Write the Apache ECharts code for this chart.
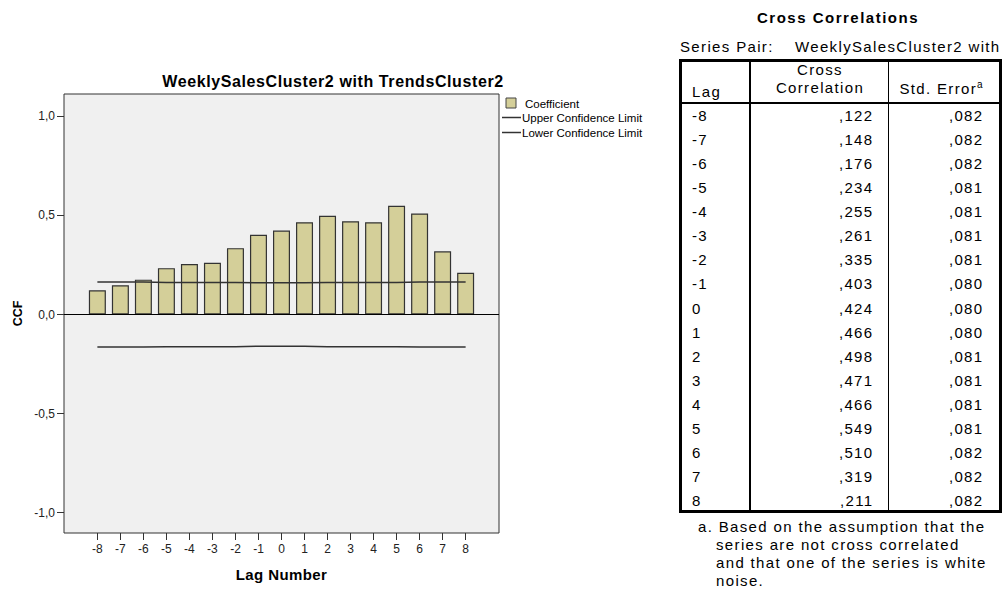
<!DOCTYPE html>
<html>
<head>
<meta charset="utf-8">
<script src="https://cdn.jsdelivr.net/npm/echarts@6/dist/echarts.min.js"></script>
<style>
  html, body { margin: 0; padding: 0; background: #fff; }
  #wrap { position: relative; width: 1008px; height: 592px; overflow: hidden; font-family: "Liberation Sans", Arial, sans-serif; }
  #chart { position: absolute; left: 0; top: 0; width: 1008px; height: 592px; }
  /* slightly wider tracking for the bold chart headings */
  #chart text[style*="16px"] { letter-spacing: 0.6px; }
  #chart text[style*="15px"] { letter-spacing: 0.4px; }
  #side { position: absolute; left: 0; top: 0; width: 1008px; height: 592px; pointer-events: none; color: #000; }
  #side .t { position: absolute; white-space: nowrap; font-size: 15px; line-height: 18px; height: 18px; letter-spacing: 1.35px; }
  #side .b { font-weight: bold; letter-spacing: 1.5px; }
  #side .r { text-align: right; width: 200px; }
  #side .c { text-align: center; width: 200px; }
  #side .ln { position: absolute; background: #000; }
  #side .box { position: absolute; border: 3px solid #000; box-sizing: border-box; }
  #side sup { font-size: 10px; line-height: 0; letter-spacing: 0; }
</style>
</head>
<body>
<div id="wrap">
  <div id="chart"></div>
  <div id="side"></div>
</div>
<script>
// Cross correlation of WeeklySalesCluster2 with TrendsCluster2, lags -8..8
const lags = [-8, -7, -6, -5, -4, -3, -2, -1, 0, 1, 2, 3, 4, 5, 6, 7, 8];
const crossCorr = [0.122, 0.148, 0.176, 0.234, 0.255, 0.261, 0.335, 0.403, 0.424, 0.466, 0.498, 0.471, 0.466, 0.549, 0.510, 0.319, 0.211];
const stdError = [0.082, 0.082, 0.082, 0.081, 0.081, 0.081, 0.081, 0.080, 0.080, 0.080, 0.081, 0.081, 0.081, 0.081, 0.082, 0.082, 0.082];
const yTicks = [-1, -0.5, 0, 0.5, 1];
const chartTitle = 'WeeklySalesCluster2 with TrendsCluster2';
const seriesNames = ['Coefficient', 'Upper Confidence Limit', 'Lower Confidence Limit'];
const tableTitle = 'Cross Correlations';
const pairLabel = 'Series Pair:';
const pairName = 'WeeklySalesCluster2 with';
const noteLines = ['a. Based on the assumption that the', 'series are not cross correlated', 'and that one of the series is white', 'noise.'];

// Decimal comma formatting, as in the output tables
const comma = (v, d) => v.toFixed(d).replace('.', ',');
const shortComma = v => comma(v, 3).replace(/^0,/, ',');

// Confidence limits: two standard errors either side of zero
const upper = lags.map((l, i) => [l, 2 * stdError[i]]);
const lower = lags.map((l, i) => [l, -2 * stdError[i]]);

const font = '"Liberation Sans", Arial, sans-serif';
const barFill = '#d4cf99';
const chart = echarts.init(document.getElementById('chart'), null, { renderer: 'svg' });

chart.setOption({
  animation: false,
  backgroundColor: '#fff',
  textStyle: { fontFamily: font },
  title: {
    text: chartTitle,
    left: 328, top: 68, textAlign: 'center',
    textStyle: { fontSize: 16, fontWeight: 'bold', color: '#000', fontFamily: font }
  },
  grid: {
    left: 64, top: 94, right: 509, bottom: 59,
    show: true, backgroundColor: '#f0f0f0', borderColor: '#333', borderWidth: 1
  },
  xAxis: {
    type: 'value', min: -9.45, max: 9.45,
    name: 'Lag Number', nameLocation: 'middle', nameGap: 34,
    nameTextStyle: { fontSize: 15, fontWeight: 'bold', color: '#000', fontFamily: font },
    axisLine: { show: false, onZero: false },
    splitLine: { show: false },
    axisTick: { show: true, length: 7, lineStyle: { color: '#333' }, customValues: lags },
    axisLabel: { fontSize: 12, color: '#222', margin: 10, customValues: lags, formatter: v => String(v) }
  },
  yAxis: {
    type: 'value', min: -1.1025, max: 1.113,
    name: 'CCF', nameLocation: 'middle', nameGap: 40, nameRotate: 90,
    nameTextStyle: { fontSize: 12.5, fontWeight: 'bold', color: '#000', fontFamily: font },
    axisLine: { show: false, onZero: false },
    splitLine: { show: false },
    axisTick: { show: true, length: 7, lineStyle: { color: '#333' }, customValues: yTicks },
    axisLabel: { fontSize: 12, color: '#222', margin: 9, customValues: yTicks, formatter: v => comma(v, 1) }
  },
  // key to the three series, right of the plot
  graphic: [
    { type: 'rect', shape: { x: 506, y: 98, width: 10, height: 10 }, style: { fill: barFill, stroke: '#444', lineWidth: 1 } },
    { type: 'text', x: 525, y: 103.5, style: { text: seriesNames[0], font: '11.5px ' + font, fill: '#000', verticalAlign: 'middle' } },
    { type: 'line', shape: { x1: 502, y1: 117.5, x2: 521, y2: 117.5 }, style: { stroke: '#333', lineWidth: 1.5 } },
    { type: 'text', x: 522, y: 118, style: { text: seriesNames[1], font: '11.5px ' + font, fill: '#000', verticalAlign: 'middle' } },
    { type: 'line', shape: { x1: 502, y1: 132.5, x2: 521, y2: 132.5 }, style: { stroke: '#333', lineWidth: 1.5 } },
    { type: 'text', x: 522, y: 133, style: { text: seriesNames[2], font: '11.5px ' + font, fill: '#000', verticalAlign: 'middle' } }
  ],
  series: [
    {
      name: seriesNames[0], type: 'bar', barWidth: 17,
      data: lags.map((l, i) => [l, crossCorr[i]]),
      itemStyle: { color: barFill, borderColor: '#333', borderWidth: 1.2 },
      markLine: {
        silent: true, symbol: 'none', label: { show: false },
        lineStyle: { color: '#000', width: 1, type: 'solid' },
        data: [{ yAxis: 0 }]
      },
      z: 2
    },
    {
      name: seriesNames[1], type: 'line', data: upper,
      symbol: 'none', lineStyle: { color: '#333', width: 1.5 }, itemStyle: { color: '#333' }, z: 3
    },
    {
      name: seriesNames[2], type: 'line', data: lower,
      symbol: 'none', lineStyle: { color: '#333', width: 1.5 }, itemStyle: { color: '#333' }, z: 3
    }
  ]
});

// Companion output table, laid out on fixed rules
const side = document.getElementById('side');
const parts = [];
const txt = (text, x, cy, cls) => {
  let left = x;
  if (cls.includes('r')) left = x - 200;
  if (cls.includes('c')) left = x - 100;
  parts.push('<div class="t ' + cls + '" style="left:' + left + 'px;top:' + (cy - 9) + 'px">' + text + '</div>');
};
const rule = (l, t, w, h) => parts.push('<div class="ln" style="left:' + l + 'px;top:' + t + 'px;width:' + w + 'px;height:' + h + 'px"></div>');

txt(tableTitle, 838, 18, 'b c');
txt(pairLabel, 680, 47, '');
txt(pairName, 795, 47, '');

parts.push('<div class="box" style="left:679px;top:59px;width:323px;height:454px"></div>');
rule(749, 59, 2, 454);
rule(888, 59, 1, 454);
rule(679, 102, 323, 2);

txt('Lag', 692, 92, '');
txt('Cross', 820, 70, 'c');
txt('Correlation', 820, 88, 'c');
txt('Std. Error<sup>a</sup>', 941, 89, 'c');

const rowTop = 103, rowH = 24.06;
lags.forEach((l, i) => {
  const cy = rowTop + rowH * (i + 0.5);
  txt(String(l), 692, cy + 1, '');
  txt(shortComma(crossCorr[i]), 873.5, cy + 1, 'r');
  txt(shortComma(stdError[i]), 983.5, cy + 1, 'r');
});

noteLines.forEach((t, i) => txt(t, i === 0 ? 698 : 716, 527 + 18 * i, ''));
side.innerHTML = parts.join('');
</script>
</body>
</html>
